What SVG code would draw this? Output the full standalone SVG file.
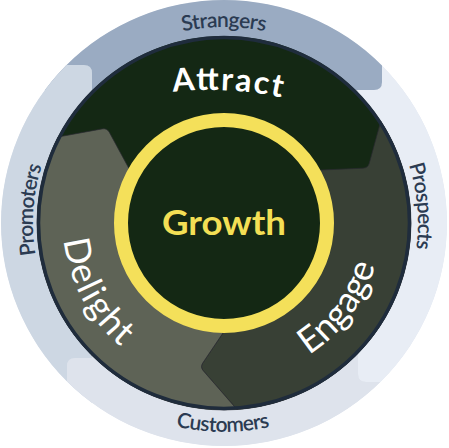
<svg xmlns="http://www.w3.org/2000/svg" width="449" height="448" viewBox="0 0 449 448">
  <defs>
    <clipPath id="outerClip"><circle cx="224" cy="223" r="223"/></clipPath>
    <path id="pStrangers" d="M 28,223 A 196 196 0 0 1 420,223"/>
    <path id="pProspects" d="M 224,29 A 194 194 0 0 1 224,417"/>
    <path id="pPromoters" d="M 224,414 A 191 191 0 0 1 224,32"/>
    <path id="pCustomers" d="M 15,223 A 209 209 0 0 0 433,223"/>
    <path id="pAttract" d="M 140,97.1 A 350 350 0 0 1 300,101.8"/>
    <path id="pDelight" d="M 72.7,167.9 A 161 161 0 0 0 304.5,362.4"/>
    <path id="pEngage" d="M 196.7,377.6 A 157 157 0 0 0 344.3,122.1"/>
  </defs>
  <style>
    .band-label { font-family: "Lato", "Open Sans", sans-serif; font-size: 21px; font-weight: 600; fill: #2b3b52; }
    .stage-label { font-family: "Lato", "Open Sans", sans-serif; font-size: 36px; fill: #ffffff; }
    .seg-edge { stroke: #2a2a30; stroke-width: 0.7; }
  </style>

  <g id="outer-ring" clip-path="url(#outerClip)">
    <circle cx="224" cy="223" r="223" fill="#dee3ec"/>
    <path id="band-prospects" d="M 358,-5 L 460,-5 L 460,382 L 366,382 Q 358,382 358,374 Z" fill="#e8edf5"/>
    <path id="band-strangers" d="M -5,-5 L 382,-5 L 382,82 Q 382,90 374,90 L -5,90 Z" fill="#9aabc2"/>
    <path id="band-promoters" d="M -5,65 L 84,65 Q 92,65 92,73 L 92,460 L -5,460 Z" fill="#cdd7e3"/>
    <path id="band-customers" d="M 67,366 Q 67,358 75,358 L 358,358 L 358,374 Q 358,382 366,382 L 460,382 L 460,460 L 67,460 Z" fill="#dee3ec"/>
  </g>

  <g id="node-strangers">
    <text class="band-label"><textPath href="#pStrangers" startOffset="50%" text-anchor="middle" textLength="83" lengthAdjust="spacing">Strangers</textPath></text>
  </g>
  <g id="node-prospects">
    <text class="band-label"><textPath href="#pProspects" startOffset="288" text-anchor="middle" textLength="85" lengthAdjust="spacing">Prospects</textPath></text>
  </g>
  <g id="node-customers">
    <text class="band-label"><textPath href="#pCustomers" startOffset="327" text-anchor="middle" textLength="95" lengthAdjust="spacing">Customers</textPath></text>
  </g>
  <g id="node-promoters">
    <text class="band-label"><textPath href="#pPromoters" startOffset="313" text-anchor="middle" textLength="90" lengthAdjust="spacing">Promoters</textPath></text>
  </g>

  <g id="node-attract">
    <circle cx="224" cy="223" r="187" fill="#142814"/>
    <text class="stage-label" style="font-size:32px;font-weight:700"><textPath href="#pAttract" startOffset="88" text-anchor="middle" textLength="109" lengthAdjust="spacing">Attract</textPath></text>
  </g>
  <g id="node-engage">
    <path class="seg-edge" d="M 380.8,121.2 A 187 187 0 0 1 237,409.5 L 203.3,370.8 Q 200,367 202.8,362.9 L 229,324 A 101 101 0 0 0 310,170.5 L 363,168.2 Q 368,168 369.3,163.2 Z" fill="#384035"/>
    <text class="stage-label"><textPath href="#pEngage" startOffset="174" text-anchor="middle" textLength="114" lengthAdjust="spacing">Engage</textPath></text>
  </g>
  <g id="node-delight">
    <path class="seg-edge" d="M 237,409.5 A 187 187 0 0 1 58,137 L 102.1,128.9 Q 107,128 109.4,132.4 L 133,176 A 101 101 0 0 0 229,324 L 202.8,362.9 Q 200,367 203.3,370.8 Z" fill="#5e6356"/>
    <text class="stage-label"><textPath href="#pDelight" startOffset="135" text-anchor="middle" textLength="124" lengthAdjust="spacing">Delight</textPath></text>
  </g>

  <circle id="disk-border" cx="224" cy="223" r="185.5" fill="none" stroke="#1f2c3c" stroke-width="3.5"/>

  <g id="node-growth">
    <circle cx="224" cy="223" r="103" fill="#142814" stroke="#f4e05a" stroke-width="14"/>
    <text x="224" y="235" text-anchor="middle" font-family="Lato, 'Open Sans', sans-serif" font-size="35" font-weight="700" fill="#f3df55" textLength="124" lengthAdjust="spacingAndGlyphs">Growth</text>
  </g>
</svg>
